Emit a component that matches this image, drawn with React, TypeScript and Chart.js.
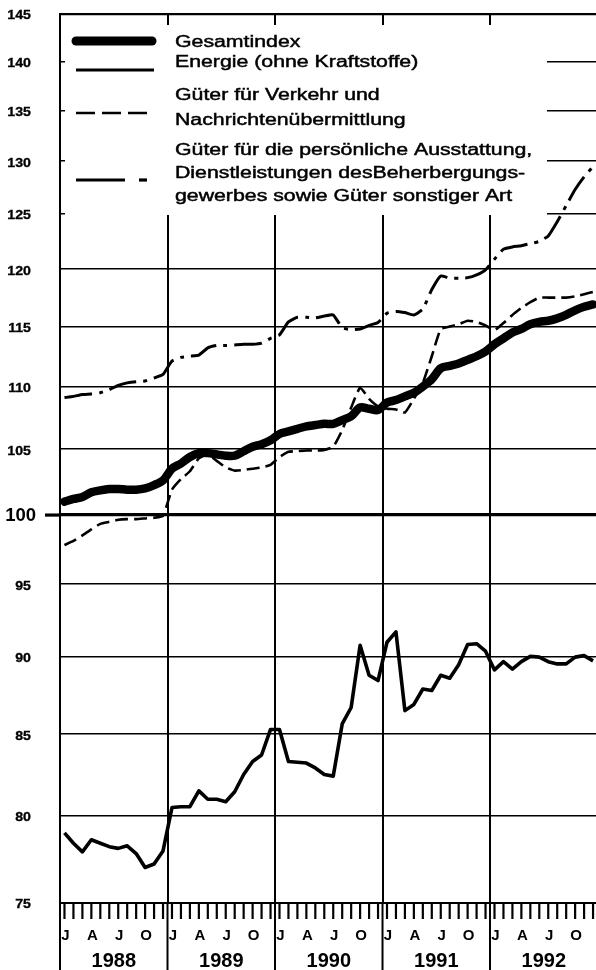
import React, { useEffect, useRef } from "react";
import { Chart, registerables } from "chart.js";

Chart.register(...registerables);

const years = ["1988", "1989", "1990", "1991", "1992"];
const monthLetters = ["J", "A", "J", "O"];
const monthLetterIdx = [0, 3, 6, 9];
const yTicks = [75, 80, 85, 90, 95, 100, 105, 110, 115, 120, 125, 130, 135, 140, 145];

const gesamtindex = [
  101.0, 101.2, 101.35, 101.7, 101.85, 101.95, 101.95, 101.9, 101.9, 102.0, 102.25, 102.6,
  103.5, 103.9, 104.4, 104.7, 104.7, 104.6, 104.5, 104.5, 104.85, 105.2, 105.4, 105.7,
  106.2, 106.4, 106.6, 106.8, 106.9, 107.0, 107.0, 107.3, 107.6, 108.3, 108.2, 108.1,
  108.7, 108.9, 109.2, 109.5, 110.0, 110.6, 111.5, 111.7, 111.9, 112.2, 112.5, 112.9,
  113.5, 114.0, 114.5, 114.8, 115.2, 115.4, 115.5, 115.7, 116.0, 116.4, 116.7, 116.9,
];

const energie = [
  79.0, 78.4, 77.9, 78.6, 78.4, 78.2, 78.1, 78.25, 77.8, 77.0, 77.2, 77.95,
  80.5, 80.55, 80.55, 81.5, 81.0, 81.0, 80.85, 81.45, 82.5, 83.3, 83.7, 85.3,
  85.3, 83.3, 83.25, 83.2, 82.9, 82.5, 82.4, 85.65, 86.7, 90.8, 88.8, 88.45,
  91.0, 91.7, 86.5, 86.9, 87.9, 87.8, 88.8, 88.6, 89.5, 90.85, 90.9, 90.4,
  89.15, 89.7, 89.2, 89.7, 90.05, 90.0, 89.7, 89.55, 89.55, 90.0, 90.1, 89.75,
];

const verkehr = [
  97.8, 98.1, 98.5, 98.95, 99.35, 99.5, 99.65, 99.7, 99.7, 99.75, 99.8, 99.95,
  101.9, 102.7, 103.3, 104.3, 104.6, 104.1, 103.6, 103.35, 103.4, 103.5, 103.6, 103.8,
  104.4, 104.8, 104.85, 104.9, 104.9, 104.95, 105.2, 106.5, 108.3, 109.9, 109.0, 108.4,
  108.2, 108.15, 107.9, 109.0, 110.3, 112.5, 114.8, 115.0, 115.2, 115.5, 115.4, 115.1,
  114.7, 115.3, 116.0, 116.6, 117.1, 117.5, 117.5, 117.5, 117.5, 117.6, 117.8, 118.0,
];

const persoenlich = [
  109.1, 109.2, 109.35, 109.4, 109.5, 109.75, 110.1, 110.3, 110.4, 110.45, 110.7, 111.0,
  112.1, 112.4, 112.5, 112.6, 113.2, 113.4, 113.4, 113.45, 113.5, 113.5, 113.6, 114.0,
  114.3, 115.4, 115.8, 115.8, 115.75, 115.9, 116.0, 114.9, 114.75, 114.8, 115.1, 115.35,
  116.15, 116.3, 116.2, 116.0, 116.5, 118.2, 119.4, 119.2, 119.2, 119.25, 119.5, 119.95,
  120.9, 121.8, 122.0, 122.1, 122.3, 122.5, 123.0, 124.3, 125.8, 127.3, 128.5, 129.5,
];

const legendLines = [
  ["Gesamtindex"],
  ["Energie (ohne Kraftstoffe)"],
  ["Güter für Verkehr und", "Nachrichtenübermittlung"],
  ["Güter für die persönliche Ausstattung,", "Dienstleistungen desBeherbergungs-", "gewerbes sowie Güter sonstiger Art"],
];

const FONT = '"Liberation Sans", Arial, Helvetica, sans-serif';

function toPoints(arr: number[]) {
  return arr.map((v, i) => ({ x: i, y: v }));
}

function drawText(ctx: CanvasRenderingContext2D, s: string, x: number, y: number, font: string, align: CanvasTextAlign, sx: number, baseline: CanvasTextBaseline = "alphabetic", stroke = 0) {
  ctx.save();
  ctx.translate(x, y);
  ctx.scale(sx, 1);
  ctx.font = font;
  ctx.textAlign = align;
  ctx.textBaseline = baseline;
  ctx.fillStyle = "#000";
  ctx.fillText(s, 0, 0);
  if (stroke > 0) {
    ctx.strokeStyle = "#000";
    ctx.lineWidth = stroke;
    ctx.setLineDash([]);
    ctx.strokeText(s, 0, 0);
  }
  ctx.restore();
}

function seg(ctx: CanvasRenderingContext2D, x1: number, y1: number, x2: number, y2: number) {
  ctx.beginPath();
  ctx.moveTo(x1, y1);
  ctx.lineTo(x2, y2);
  ctx.stroke();
}

const decorPlugin = {
  id: "decor",
  afterDraw(chart: any) {
    const { ctx, chartArea: a, scales } = chart;
    const xs = scales.x;
    const ys = scales.y;
    const H = chart.height;
    ctx.save();
    ctx.strokeStyle = "#000";
    ctx.lineCap = "butt";

    // year separators and left axis extended to the bottom
    ctx.lineWidth = 2;
    for (let k = 0; k < years.length; k++) {
      const px = xs.getPixelForValue(k * 12 - 0.5);
      seg(ctx, px, a.bottom, px, H);
    }
    // month ticks
    ctx.lineWidth = 2.2;
    for (let i = 0; i < years.length * 12; i++) {
      const px = xs.getPixelForValue(i);
      seg(ctx, px, a.bottom, px, a.bottom + 16);
    }
    // month letters and years
    for (let k = 0; k < years.length; k++) {
      monthLetterIdx.forEach((m, j) => {
        const px = xs.getPixelForValue(k * 12 + m);
        drawText(ctx, monthLetters[j], px + 1, a.bottom + 37, "bold 15px " + FONT, "center", 1);
      });
      const cx = xs.getPixelForValue(k * 12 + 5.5);
      drawText(ctx, years[k], cx, H - 3, "bold 20px " + FONT, "center", 1);
    }

    // y labels
    yTicks.forEach((v) => {
      const py = ys.getPixelForValue(v);
      if (v === 100) {
        drawText(ctx, "100", a.left - 24, py + 1, "bold 18.5px " + FONT, "right", 1, "middle");
      } else {
        drawText(ctx, String(v), a.left - 29, py + 2, "bold 12px " + FONT, "right", 1.18, "middle", 0.3);
      }
    });
    // 100 line extension to the left
    ctx.lineWidth = 3.2;
    const p100 = ys.getPixelForValue(100);
    seg(ctx, a.left - 15, p100, a.left, p100);

    // legend box
    const bx0 = a.left + 5;
    const by0 = a.top + 11;
    const bx1 = 547;
    const by1 = 215;
    ctx.fillStyle = "#fff";
    ctx.fillRect(bx0, by0, bx1 - bx0, by1 - by0);

    // legend samples
    ctx.lineCap = "round";
    ctx.lineWidth = 9;
    seg(ctx, 76, 41, 152, 41);
    ctx.lineCap = "butt";
    ctx.lineWidth = 3.2;
    seg(ctx, 76, 70, 154, 70);
    ctx.lineWidth = 2.6;
    ctx.setLineDash([19, 7]);
    seg(ctx, 76, 113, 153, 113);
    ctx.setLineDash([]);
    ctx.lineWidth = 3.2;
    seg(ctx, 76, 180, 125, 180);
    seg(ctx, 139, 180, 147, 180);

    const baselines = [[47], [67], [100, 125], [155, 178, 201]];
    legendLines.forEach((lines, gi) => {
      lines.forEach((s, li) => {
        drawText(ctx, s, 175, baselines[gi][li], "16px " + FONT, "left", 1.33, "alphabetic", 0.45);
      });
    });
    ctx.restore();
  },
};

export default function App() {
  const ref = useRef<HTMLCanvasElement | null>(null);
  useEffect(() => {
    document.body.style.margin = "0";
    const canvas = ref.current;
    if (!canvas) return;
    const chart = new Chart(canvas, {
      type: "line",
      data: {
        datasets: [
          {
            label: "Gesamtindex",
            data: toPoints(gesamtindex),
            borderColor: "#000",
            borderWidth: 8.5,
            pointRadius: 0,
            tension: 0.3,
            borderCapStyle: "round",
            borderJoinStyle: "round",
            order: 0,
          },
          {
            label: "Energie (ohne Kraftstoffe)",
            data: toPoints(energie),
            borderColor: "#000",
            borderWidth: 3.6,
            pointRadius: 0,
            tension: 0,
            borderJoinStyle: "round",
            order: 1,
          },
          {
            label: "Güter für Verkehr und Nachrichtenübermittlung",
            data: toPoints(verkehr),
            borderColor: "#000",
            borderWidth: 2.6,
            borderDash: [13, 6],
            pointRadius: 0,
            tension: 0.15,
            order: 2,
          },
          {
            label: "Güter für die persönliche Ausstattung",
            data: toPoints(persoenlich),
            borderColor: "#000",
            borderWidth: 3,
            borderDash: [28, 7, 4, 7],
            pointRadius: 0,
            tension: 0.15,
            order: 3,
          },
        ],
      },
      options: {
        animation: false,
        responsive: false,
        maintainAspectRatio: false,
        layout: { padding: { left: 60, top: 14, right: 0, bottom: 67 } },
        plugins: { legend: { display: false }, tooltip: { enabled: false } },
        scales: {
          x: {
            type: "linear",
            min: -0.5,
            max: 59.33,
            afterBuildTicks: (scale: any) => {
              scale.ticks = [-0.5, 11.5, 23.5, 35.5, 47.5].map((v) => ({ value: v }));
            },
            ticks: { display: false },
            grid: { color: "#000", lineWidth: 2, drawTicks: false },
            border: { display: true, color: "#000", width: 2 },
          },
          y: {
            type: "logarithmic",
            min: 75,
            max: 145,
            afterBuildTicks: (scale: any) => {
              scale.ticks = yTicks.map((v) => ({ value: v }));
            },
            ticks: { display: false },
            grid: {
              color: "#000",
              drawTicks: false,
              lineWidth: (c: any) => (c.tick && c.tick.value === 100 ? 3.2 : c.tick && c.tick.value === 145 ? 2.2 : 1.6),
            },
            border: { display: true, color: "#000", width: 2 },
          },
        },
      },
      plugins: [decorPlugin],
    } as any);
    return () => chart.destroy();
  }, []);
  return (
    <div style={{ position: "absolute", left: 0, top: 0, width: 596, height: 970, background: "#fff" }}>
      <canvas ref={ref} width={596} height={970} style={{ display: "block", width: 596, height: 970 }} />
    </div>
  );
}
